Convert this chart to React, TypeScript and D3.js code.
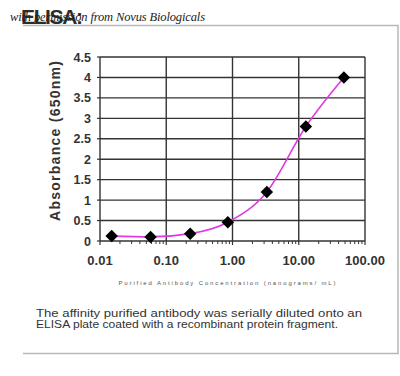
import React from "react";
import * as d3 from "d3";

const concentrations = [0.015, 0.058, 0.23, 0.85, 3.3, 12.8, 48];
const absorbance = [0.12, 0.1, 0.18, 0.46, 1.2, 2.8, 4.0];
const xTicks = [0.01, 0.1, 1, 10, 100];
const xTickLabels = ["0.01", "0.10", "1.00", "10.00", "100.00"];
const yTicks = [0, 0.5, 1, 1.5, 2, 2.5, 3, 3.5, 4, 4.5];
const yTickLabels = ["0", "0.5", "1", "1.5", "2", "2.5", "3", "3.5", "4", "4.5"];
const title = "ELISA:";
const watermark = "with permission from Novus Biologicals";
const yTitle = "Absorbance (650nm)";
const xTitle = "Purified Antibody Concentration (nanograms/ mL)";
const caption = [
  "The affinity purified antibody was serially diluted onto an",
  "ELISA plate coated with a recombinant protein fragment.",
];

export default function App() {
  const W = 400, H = 376;
  const left = 100, right = 365, top = 57, bottom = 241;
  const x = d3.scaleLog().domain([0.01, 100]).range([left, right]);
  const y = d3.scaleLinear().domain([0, 4.5]).range([bottom, top]);
  const pts = concentrations.map((c, i) => [x(c), y(absorbance[i])] as [number, number]);
  const line = d3.line().curve(d3.curveMonotoneX)(pts) || "";
  const diamond = d3.symbol().type(d3.symbolSquare).size(78)() || "";
  const minor: number[] = [];
  for (let e = -2; e < 2; e++) for (let k = 2; k <= 9; k++) minor.push(k * Math.pow(10, e));
  const grid = "#333";
  const font = "Arial, 'Liberation Sans', sans-serif";
  return (
    <svg width={W} height={H} style={{ position: "absolute", left: 0, top: 0, background: "#fff" }}>
      <path d={`M23,25.5 H398 V353.5 H23`} fill="none" stroke="#b8b8b8" strokeWidth={1.5} />
      <text x={21} y={24} fontFamily={font} fontWeight="bold" fontSize={21} fill="#2c2c2c" textLength={62}>{title}</text>
      <text x={10} y={21} fontFamily="'Liberation Serif', 'DejaVu Serif', serif" fontStyle="italic" fontSize={12.5} fill="#222" textLength={195}>{watermark}</text>
      {yTicks.map((t) => (
        <line key={"gy" + t} x1={left} x2={right} y1={y(t)} y2={y(t)} stroke={grid} strokeWidth={1.4} />
      ))}
      {xTicks.map((t) => (
        <line key={"gx" + t} x1={x(t)} x2={x(t)} y1={top} y2={bottom} stroke={grid} strokeWidth={1.4} />
      ))}
      {yTicks.map((t) => (
        <line key={"ty" + t} x1={left - 3} x2={left} y1={y(t)} y2={y(t)} stroke={grid} strokeWidth={1.2} />
      ))}
      {minor.map((t) => (
        <line key={"mx" + t} x1={x(t)} x2={x(t)} y1={bottom} y2={bottom + 3} stroke={grid} strokeWidth={1} />
      ))}
      {xTicks.map((t) => (
        <line key={"tx" + t} x1={x(t)} x2={x(t)} y1={bottom} y2={bottom + 4} stroke={grid} strokeWidth={1.2} />
      ))}
      {yTicks.map((t, i) => (
        <text key={"ly" + t} x={left - 9} y={y(t) + 4.5} textAnchor="end" fontFamily={font} fontWeight="bold" fontSize={12.5} fill="#333">{yTickLabels[i]}</text>
      ))}
      {xTicks.map((t, i) => (
        <text key={"lx" + t} x={x(t)} y={265} textAnchor="middle" fontFamily={font} fontWeight="bold" fontSize={13} fill="#333">{xTickLabels[i]}</text>
      ))}
      <text transform={`translate(60,141) rotate(-90)`} textAnchor="middle" fontFamily={font} fontWeight="bold" fontSize={14} fill="#333" textLength={160}>{yTitle}</text>
      <text x={227} y={285} textAnchor="middle" fontFamily={font} fontSize={6} fill="#555" textLength={217}>{xTitle}</text>
      <path d={line} fill="none" stroke="#e03ae0" strokeWidth={1.6} />
      {pts.map((p, i) => (
        <path key={"p" + i} d={diamond} transform={`translate(${p[0]},${p[1]}) rotate(45)`} fill="#000" />
      ))}
      {caption.map((c, i) => (
        <text key={"c" + i} x={36} y={317 + i * 11} fontFamily={font} fontSize={10.8} fill="#333" textLength={i === 0 ? 326 : 302} lengthAdjust="spacingAndGlyphs">{c}</text>
      ))}
    </svg>
  );
}
